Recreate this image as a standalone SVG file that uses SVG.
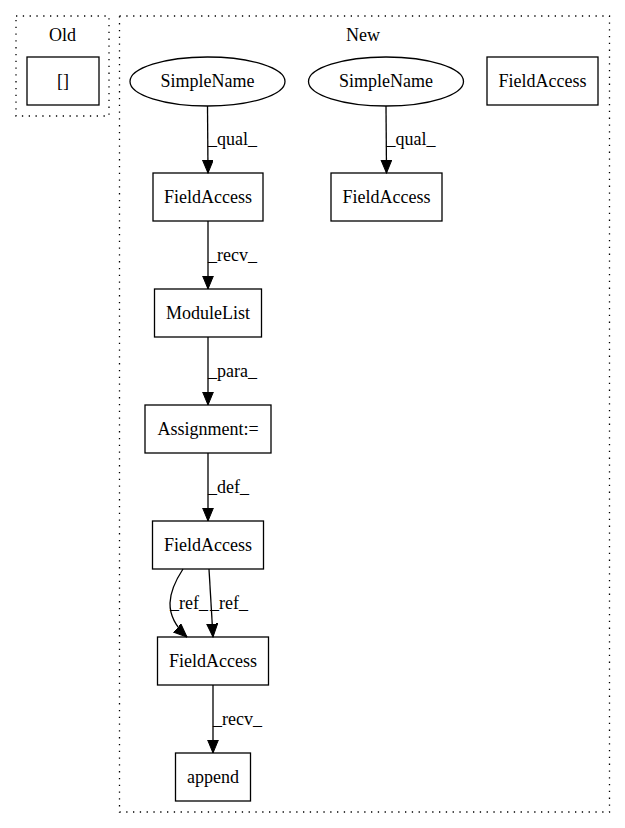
<svg xmlns="http://www.w3.org/2000/svg" width="625" height="828" viewBox="0 0 625 828">
<style>
text{font-family:"Liberation Serif","Times New Roman",serif;font-size:18px;fill:#000}
.c{text-anchor:middle}
.cl{fill:none;stroke:#000;stroke-width:1.3;stroke-dasharray:1.3,5.5}
.n{fill:#fff;stroke:#000;stroke-width:1.3}
.e{fill:none;stroke:#000;stroke-width:1.3;marker-end:url(#ah)}
</style>
<defs>
<marker id="ah" markerUnits="userSpaceOnUse" markerWidth="14" markerHeight="12" refX="13.3" refY="5.5" orient="auto">
<path d="M0,0 L13.3,5.5 L0,11 z" fill="#000" stroke="#000" stroke-width="1"/>
</marker>
</defs>
<rect width="625" height="828" fill="#fff"/>
<g id="cluster_old">
<rect class="cl" x="16" y="16" width="93" height="100"/>
<text class="c" x="62.5" y="41">Old</text>
</g>
<g id="cluster_new">
<rect class="cl" x="119.5" y="16" width="490" height="796"/>
<text class="c" x="363" y="41">New</text>
</g>
<g id="old_brackets">
<rect class="n" x="27" y="57" width="72" height="48"/>
<text class="c" x="63" y="87">[]</text>
</g>
<g id="simplename1">
<ellipse class="n" cx="207.5" cy="81.5" rx="77.5" ry="24.5"/>
<text class="c" x="207.5" y="87">SimpleName</text>
</g>
<g id="simplename2">
<ellipse class="n" cx="386" cy="81.5" rx="77.5" ry="24.5"/>
<text class="c" x="386" y="87">SimpleName</text>
</g>
<g id="fieldaccess_tr">
<rect class="n" x="487" y="57" width="111" height="48"/>
<text class="c" x="542.5" y="87">FieldAccess</text>
</g>
<g id="fieldaccess1">
<rect class="n" x="153" y="173" width="110" height="48"/>
<text class="c" x="208" y="203">FieldAccess</text>
</g>
<g id="fieldaccess2">
<rect class="n" x="331" y="173" width="111" height="48"/>
<text class="c" x="386.5" y="203">FieldAccess</text>
</g>
<g id="modulelist">
<rect class="n" x="154.5" y="289" width="107" height="48"/>
<text class="c" x="208" y="319">ModuleList</text>
</g>
<g id="assignment">
<rect class="n" x="145" y="405" width="126" height="48"/>
<text class="c" x="208" y="435">Assignment:=</text>
</g>
<g id="fieldaccess3">
<rect class="n" x="152.5" y="521" width="111" height="48"/>
<text class="c" x="208" y="551">FieldAccess</text>
</g>
<g id="fieldaccess4">
<rect class="n" x="157.5" y="637" width="111" height="48"/>
<text class="c" x="213" y="667">FieldAccess</text>
</g>
<g id="append">
<rect class="n" x="175.5" y="753" width="75" height="48"/>
<text class="c" x="213" y="783">append</text>
</g>
<g id="edges">
<path class="e" d="M207.5,106 L208,173"/>
<text x="208" y="145">_qual_</text>
<path class="e" d="M386,106 L386.5,173"/>
<text x="386.5" y="145">_qual_</text>
<path class="e" d="M208,221 L208,289"/>
<text x="208" y="261">_recv_</text>
<path class="e" d="M208,337 L208,405"/>
<text x="208" y="377">_para_</text>
<path class="e" d="M208,453 L208,521"/>
<text x="208" y="493">_def_</text>
<path class="e" d="M183,569 C168,592 162,614 187,637"/>
<text x="170" y="609">_ref_</text>
<path class="e" d="M209,569 L213,637"/>
<text x="210" y="609">_ref_</text>
<path class="e" d="M213,685 L213,753"/>
<text x="213" y="725">_recv_</text>
</g>
</svg>
